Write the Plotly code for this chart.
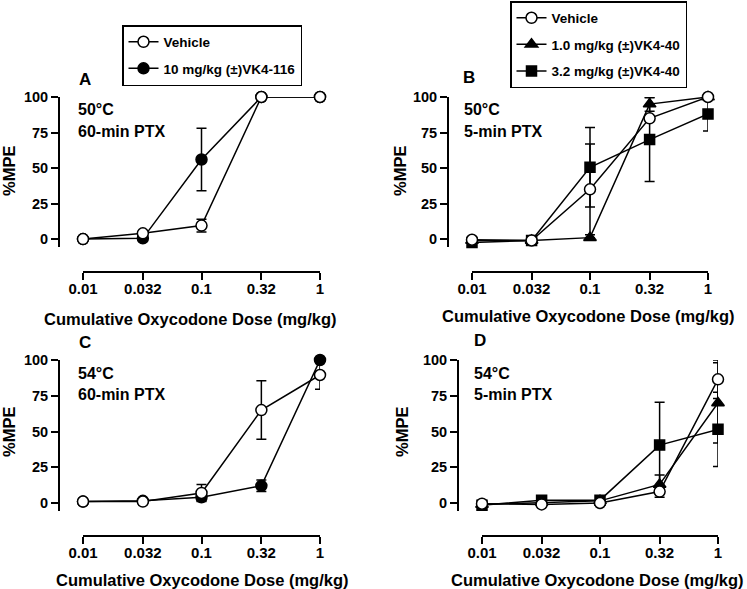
import plotly.graph_objects as go

W, H = 747, 589

doses = [0.01, 0.032, 0.1, 0.32, 1]
dose_labels = ["0.01", "0.032", "0.1", "0.32", "1"]
y_ticks = [0, 25, 50, 75, 100]

# Panel A: 50°C, 60-min PTX
A_vehicle = [0, 4, 9.5, 100, 100]
A_vehicle_err = [None, None, 4.5, None, None]
A_vk116 = [0, 0.5, 56, 100, 100]
A_vk116_err = [None, None, 22, None, None]

# Panel B: 50°C, 5-min PTX
B_vehicle = [-0.5, -1, 35, 85, 100]
B_vehicle_err = [None, None, 32, None, None]
B_vk40_1 = [-1, -1, 1, 95, 100]
B_vk40_1_err = [None, None, None, 5, None]
B_vk40_32 = [-2.5, -1, 50.5, 70, 88]
B_vk40_32_err = [None, None, 28, 29.5, 12]

# Panel C: 54°C, 60-min PTX
C_vehicle = [1, 1, 7, 65, 89.5]
C_vehicle_err = [None, None, 6, 20.5, 10]
C_vk116 = [1, 1.5, 4, 12, 100]
C_vk116_err = [None, None, 2.5, 4, None]

# Panel D: 54°C, 5-min PTX
D_vehicle = [-0.5, -1, 0, 8, 86.5]
D_vehicle_err = [None, None, None, 4, 13.5]
D_vk40_1 = [-1, 0.5, 1.5, 13, 70]
D_vk40_1_err = [None, None, None, 6.5, 28]
D_vk40_32 = [-1.5, 2, 2, 40.5, 51.5]
D_vk40_32_err = [None, None, None, 30, 26]

FONT = "Liberation Sans, Arial, sans-serif"

def px_x(p):
    return p / W

def px_y(p):
    return 1 - p / H

fig = go.Figure()

STYLES = {
    "vehicle": dict(symbol="circle", size=11, color="white"),
    "vk116": dict(symbol="circle", size=11, color="black"),
    "vk40_1": dict(symbol="triangle-up", size=11, color="black"),
    "vk40_32": dict(symbol="square", size=10, color="black"),
}

def add(name, y, err, style, xa, ya, legend, show, rank):
    st = STYLES[style]
    fig.add_trace(go.Scatter(
        x=doses, y=y, mode="lines+markers", name=name,
        xaxis=xa, yaxis=ya,
        line=dict(color="black", width=1.5),
        marker=dict(symbol=st["symbol"], size=st["size"], color=st["color"],
                    line=dict(color="black", width=1.5)),
        error_y=dict(type="data", array=err, visible=True, color="black",
                     thickness=1.5, width=5),
        cliponaxis=False, showlegend=show, legend=legend, legendrank=rank,
        legendgroup=legend + style,
    ))

# Panel A
add("10 mg/kg (±)VK4-116", A_vk116, A_vk116_err, "vk116", "x", "y", "legend", True, 2)
add("Vehicle", A_vehicle, A_vehicle_err, "vehicle", "x", "y", "legend", True, 1)
# Panel B
add("3.2 mg/kg (±)VK4-40", B_vk40_32, B_vk40_32_err, "vk40_32", "x2", "y2", "legend2", True, 3)
add("1.0 mg/kg (±)VK4-40", B_vk40_1, B_vk40_1_err, "vk40_1", "x2", "y2", "legend2", True, 2)
add("Vehicle", B_vehicle, B_vehicle_err, "vehicle", "x2", "y2", "legend2", True, 1)
# Panel C
add("10 mg/kg (±)VK4-116", C_vk116, C_vk116_err, "vk116", "x3", "y3", "legend", False, 2)
add("Vehicle", C_vehicle, C_vehicle_err, "vehicle", "x3", "y3", "legend", False, 1)
# Panel D
add("3.2 mg/kg (±)VK4-40", D_vk40_32, D_vk40_32_err, "vk40_32", "x4", "y4", "legend2", False, 3)
add("1.0 mg/kg (±)VK4-40", D_vk40_1, D_vk40_1_err, "vk40_1", "x4", "y4", "legend2", False, 2)
add("Vehicle", D_vehicle, D_vehicle_err, "vehicle", "x4", "y4", "legend2", False, 1)

tickfont_x = dict(family=FONT, size=15, color="black", weight="bold")
tickfont_y = dict(family=FONT, size=14.5, color="black", weight="bold")

# panel geometry in pixels: (x_left, x_right, y_axis_x, y_top, y_bottom, x_axis_y)
panels = {
    "": (83, 320, 59, 97, 247, 272),
    "2": (472, 708, 448, 97, 247, 272),
    "3": (83, 320, 59, 360, 511, 536),
    "4": (482, 718, 458, 360, 511, 536),
}

layout_axes = {}
for k, (xl, xr, yax, yt, yb, xay) in panels.items():
    layout_axes["xaxis" + k] = dict(
        type="log", range=[-2, 0], domain=[px_x(xl), px_x(xr)],
        anchor="free", position=px_y(xay), automargin=False,
        tickvals=doses, ticktext=dose_labels, tickfont=tickfont_x,
        ticklabelstandoff=-4,
        showline=True, linecolor="black", linewidth=2,
        ticks="outside", ticklen=7, tickwidth=2, tickcolor="black",
        showgrid=False, zeroline=False, fixedrange=True,
    )
    layout_axes["yaxis" + k] = dict(
        range=[-5.6, 100], domain=[px_y(yb), px_y(yt)],
        anchor="free", position=px_x(yax), automargin=False,
        tickvals=y_ticks, tickfont=tickfont_y,
        showline=True, linecolor="black", linewidth=2,
        ticks="outside", ticklen=7, tickwidth=2, tickcolor="black",
        showgrid=False, zeroline=False, fixedrange=True,
    )

ann = []
def text(t, x, y, size, xanchor="center", angle=0):
    ann.append(dict(text=t, x=px_x(x), y=px_y(y), xref="paper", yref="paper",
                    showarrow=False, xanchor=xanchor, yanchor="middle",
                    textangle=angle,
                    font=dict(family=FONT, size=size, color="black", weight="bold")))

# panel letters
text("A", 77, 80, 17, "left")
text("B", 461, 77, 17, "left")
text("C", 77, 342, 17, "left")
text("D", 472, 340, 17, "left")
# conditions
text("50°C", 76, 110, 16, "left")
text("60-min PTX", 76, 131, 16, "left")
text("50°C", 462, 110, 16, "left")
text("5-min PTX", 462, 131, 16, "left")
text("54°C", 76, 373, 16, "left")
text("60-min PTX", 76, 394, 16, "left")
text("54°C", 472, 373, 16, "left")
text("5-min PTX", 472, 394, 16, "left")
# axis titles
xt = "Cumulative Oxycodone Dose (mg/kg)"
text(xt, 190, 319, 16.5)
text(xt, 588, 316, 16.5)
text(xt, 202, 580, 16.5)
text(xt, 597, 580, 16.5)
text("%MPE", 9, 171, 16.5, angle=-90)
text("%MPE", 400, 171, 16.5, angle=-90)
text("%MPE", 9, 432, 16.5, angle=-90)
text("%MPE", 402, 432, 16.5, angle=-90)

legend_common = dict(
    bgcolor="white", bordercolor="black", borderwidth=1.5,
    font=dict(family=FONT, size=13.5, color="black", weight="bold"),
    xanchor="left", yanchor="top", tracegroupgap=6,
    itemclick=False, itemdoubleclick=False,
)

fig.update_layout(
    width=W, height=H,
    margin=dict(l=0, r=0, t=0, b=0, pad=0, autoexpand=False),
    paper_bgcolor="white", plot_bgcolor="white",
    annotations=ann,
    legend=dict(x=px_x(122), y=px_y(25), **legend_common),
    legend2=dict(x=px_x(510), y=px_y(1), **legend_common),
    **layout_axes,
)

fig.write_html("out.html", config={"displayModeBar": False},
               post_script="document.body.style.margin='0px';")
